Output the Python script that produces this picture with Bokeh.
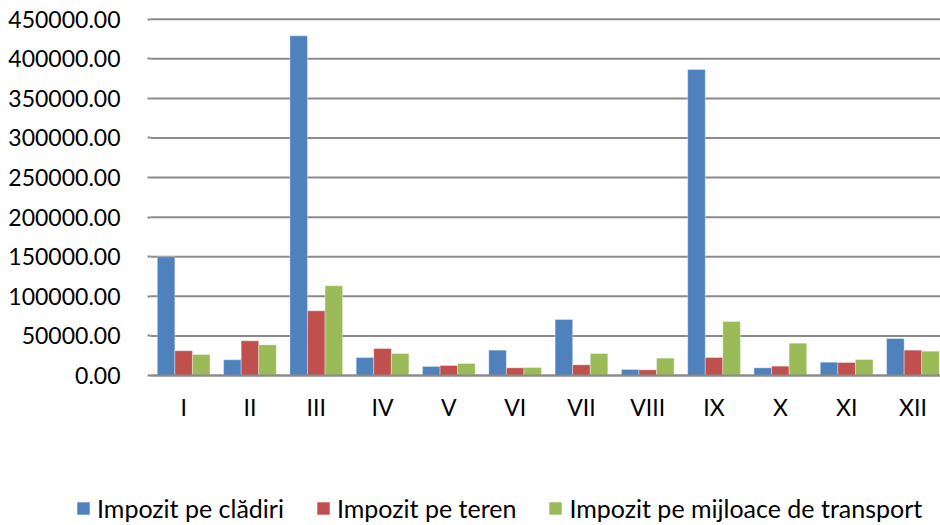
from bokeh.plotting import figure
from bokeh.models import (ColumnDataSource, Range1d, FixedTicker, NumeralTickFormatter,
                          Legend, LegendItem)
from bokeh.transform import dodge
from bokeh.embed import file_html
from bokeh.resources import INLINE

months = ["I", "II", "III", "IV", "V", "VI", "VII", "VIII", "IX", "X", "XI", "XII"]
cladiri = [150000, 19800, 429000, 22700, 11400, 32000, 70700, 7600, 386500, 9700, 16800, 46700]
teren = [31200, 43800, 81700, 34100, 12600, 9700, 13500, 7200, 22700, 11800, 16400, 32000]
transport = [26500, 38700, 113300, 27800, 15200, 10100, 27800, 21900, 68200, 40800, 20200, 30700]
y_ticks = [0, 50000, 100000, 150000, 200000, 250000, 300000, 350000, 400000, 450000]
series_names = ["Impozit pe clădiri", "Impozit pe teren", "Impozit pe mijloace de transport"]
colors = ["#4F81BD", "#C0504D", "#9BBB59"]

# ---- layout constants (pixels) ----
W, H = 940, 525
AREA_LEFT = 150          # left edge of plotting area
CAT_W = 66.3             # width of one category
Y0_PX = 375              # pixel row of value 0
YMAX_PX = 18.7           # pixel row of top tick
YMAX = y_ticks[-1]
k = (Y0_PX - YMAX_PX) / YMAX  # px per unit

n = len(months)
centers = [i + 0.5 for i in range(n)]
bw = 0.265
src = ColumnDataSource(dict(xc=centers, a=cladiri, b=teren, c=transport))

FONT = "Lato"
GRID = "#8a8a8a"

p = figure(width=W, height=H,
           x_range=Range1d(-AREA_LEFT / CAT_W, (W - AREA_LEFT) / CAT_W),
           y_range=Range1d(-(H - Y0_PX) / k, YMAX + YMAX_PX / k),
           output_backend="svg", toolbar_location=None,
           min_border_left=0, min_border_right=0, min_border_top=0, min_border_bottom=0)
p.outline_line_color = None
p.background_fill_color = "white"
p.border_fill_color = "white"
p.xgrid.visible = False
p.ygrid.visible = False

# horizontal gridlines behind the bars
p.segment(x0=[0] * len(y_ticks), x1=[n] * len(y_ticks), y0=y_ticks, y1=y_ticks,
          line_color=GRID, line_width=2)

rs = []
for col, off, c in zip(["a", "b", "c"], [-bw, 0, bw], colors):
    r = p.vbar(x=dodge("xc", off), top=col, width=bw, source=src,
               fill_color=c, line_color="white", line_alpha=0.35, line_width=1)
    rs.append(r)

# y axis
ya = p.yaxis[0]
ya.fixed_location = 0
ya.bounds = (0, YMAX)
ya.ticker = FixedTicker(ticks=y_ticks)
ya.formatter = NumeralTickFormatter(format="0.00")
ya.axis_line_color = None
ya.major_tick_out = 3
ya.major_tick_in = 0
ya.major_tick_line_color = GRID
ya.major_tick_line_width = 2
ya.minor_tick_line_color = None
ya.major_label_standoff = 27
ya.major_label_text_font = FONT
ya.major_label_text_font_size = "23px"
ya.major_label_text_color = "black"

# x axis
xa = p.xaxis[0]
xa.fixed_location = 0
xa.bounds = (0, n)
xa.ticker = FixedTicker(ticks=centers)
xa.major_label_overrides = {c: m for c, m in zip(centers, months)}
xa.axis_line_color = GRID
xa.axis_line_width = 2
xa.major_tick_line_color = None
xa.minor_tick_line_color = None
xa.major_label_standoff = 11
xa.major_label_text_font = FONT
xa.major_label_text_font_size = "23px"
xa.major_label_text_color = "black"

legend = Legend(items=[LegendItem(label=s, renderers=[r]) for s, r in zip(series_names, rs)],
                orientation="horizontal", location=(75, 2),
                glyph_width=16, glyph_height=16, label_standoff=6, spacing=31,
                padding=0, margin=0, border_line_color=None, background_fill_alpha=0,
                label_text_font=FONT, label_text_font_size="25px", label_text_color="black")
p.add_layout(legend, "center")

open("out.html", "w").write(file_html(p, INLINE))
